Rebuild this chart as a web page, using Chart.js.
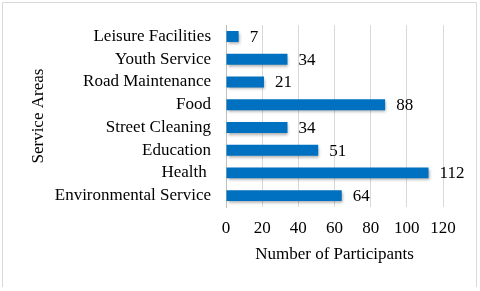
<!DOCTYPE html>
<html>
<head>
<meta charset="utf-8">
<script src="https://cdn.jsdelivr.net/npm/chart.js@4.4.1/dist/chart.umd.min.js"></script>
<style>
    html, body { margin: 0; padding: 0; background: #ffffff; }
    #wrap { position: relative; width: 480px; height: 291px; }
</style>
</head>
<body>
<div id="wrap"><canvas id="myChart" width="480" height="291"></canvas></div>
<script>
var categories = ["Leisure Facilities", "Youth Service", "Road Maintenance", "Food", "Street Cleaning", "Education", "Health ", "Environmental Service"];
var participants = [7, 34, 21, 88, 34, 51, 112, 64];
var xTicks = [0, 20, 40, 60, 80, 100, 120];

var fuente = "'Liberation Serif', 'Times New Roman', serif";

// sombra de las barras y etiquetas de valor
var barrasPlugin = {
    id: 'barras',
    beforeDatasetDraw: function (chart) {
        var ctx = chart.ctx;
        ctx.save();
        ctx.shadowColor = "rgba(0,0,0,0.35)";
        ctx.shadowBlur = 3;
        ctx.shadowOffsetX = 1;
        ctx.shadowOffsetY = 2;
    },
    afterDatasetDraw: function (chart) {
        chart.ctx.restore();
    },
    afterDatasetsDraw: function (chart) {
        var ctx = chart.ctx;
        var meta = chart.getDatasetMeta(0);
        ctx.save();
        ctx.font = "17px " + fuente;
        ctx.fillStyle = "#000000";
        ctx.textAlign = "left";
        ctx.textBaseline = "middle";
        meta.data.forEach(function (bar, i) {
            ctx.fillText(String(participants[i]), bar.x + 11, bar.y + 1);
        });
        ctx.restore();
    },
    afterDraw: function (chart) {
        var ctx = chart.ctx;
        ctx.save();
        ctx.strokeStyle = "#d9d9d9";
        ctx.lineWidth = 1;
        ctx.beginPath();
        ctx.moveTo(2.5, 287);
        ctx.lineTo(2.5, 2.5);
        ctx.lineTo(476.5, 2.5);
        ctx.lineTo(476.5, 287);
        ctx.stroke();
        ctx.restore();
    }
};

var ctx = document.getElementById("myChart").getContext("2d");
var myNewChart = new Chart(ctx, {
    type: 'bar',
    data: {
        labels: categories,
        datasets: [{
            label: "Number of Participants",
            data: participants,
            backgroundColor: "#0070C0",
            borderWidth: 0,
            barPercentage: 0.48,
            categoryPercentage: 1
        }]
    },
    options: {
        indexAxis: 'y',
        responsive: false,
        animation: false,
        layout: { padding: { top: 23, right: 37, bottom: 20, left: 0 } },
        plugins: {
            legend: { display: false },
            tooltip: { enabled: false }
        },
        scales: {
            x: {
                min: 0,
                max: 120,
                afterBuildTicks: function (scale) {
                    scale.ticks = xTicks.map(function (v) { return { value: v }; });
                },
                afterFit: function (scale) { scale.height = 64; },
                grid: { color: "#d9d9d9", drawTicks: false },
                border: { display: false },
                ticks: { color: "#000000", padding: 11, font: { family: fuente, size: 17 } },
                title: {
                    display: true,
                    text: "Number of Participants",
                    color: "#000000",
                    font: { family: fuente, size: 17 },
                    padding: { top: 0, bottom: 6 }
                }
            },
            y: {
                afterFit: function (scale) { scale.width = 226; },
                grid: { display: false, drawTicks: false },
                border: { display: true, color: "#bfbfbf" },
                ticks: { color: "#000000", padding: 15, autoSkip: false, font: { family: fuente, size: 17 } },
                title: {
                    display: true,
                    text: "Service Areas",
                    color: "#000000",
                    font: { family: fuente, size: 17 },
                    padding: { top: 28, bottom: 0 }
                }
            }
        }
    },
    plugins: [barrasPlugin]
});
</script>
</body>
</html>
